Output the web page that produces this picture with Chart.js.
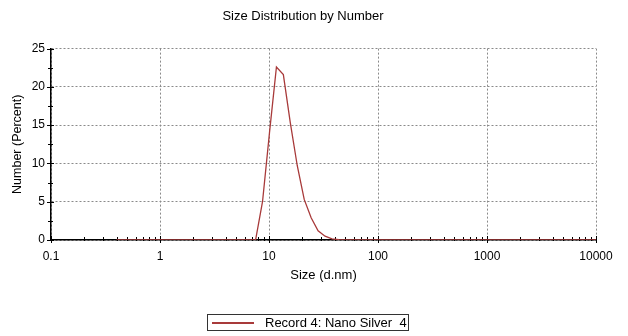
<!DOCTYPE html>
<html lang="en">
<head>
  <meta charset="UTF-8">
  <title>Size Distribution by Number</title>
  <style>
    body {
      margin: 0;
      background: #fff;
      font-family: "Liberation Sans", Arial, sans-serif;
    }
    .wrap {
      position: relative;
      width: 628px;
      height: 336px;
    }
    .legend {
      position: absolute;
      left: 207px;
      top: 314px;
      width: 200px;
      height: 15px;
      border: 1px solid #333;
      font-size: 13px;
      color: #000;
    }
    .legend .swatch {
      position: absolute;
      left: 4px;
      top: 7px;
      width: 42px;
      height: 0;
      border-top: 2px solid #a83a3a;
    }
    .legend .label {
      position: absolute;
      left: 57px;
      top: 0;
      line-height: 15px;
      white-space: pre;
    }
  </style>
</head>
<body>

  <div class="wrap">
    <canvas id="sizeChart" width="628" height="336"></canvas>
    <div class="legend">
      <span class="swatch"></span>
      <span class="label" id="legendLabel"></span>
    </div>
  </div>

  <script src="https://cdn.jsdelivr.net/npm/chart.js"></script>

  <script>
    // size classes (d.nm)
    const sizes = [0.4, 0.4632, 0.5365, 0.6213, 0.7195, 0.8332, 0.9649, 1.117, 1.294, 1.499,
      1.736, 2.01, 2.328, 2.696, 3.122, 3.615, 4.187, 4.849, 5.615, 6.503,
      7.531, 8.721, 10.1, 11.7, 13.54, 15.69, 18.17, 21.04, 24.36, 28.21,
      32.67, 37.84, 43.82, 50.75, 58.77, 68.06, 78.82, 91.28, 105.7, 122.4,
      141.8, 164.2, 190.1, 220.2, 255, 295.3, 342, 396.1, 458.7, 531.2,
      615.1, 712.4, 825, 955.4, 1106, 1281, 1484, 1718, 1990, 2305,
      2669, 3091, 3580, 4145, 4801, 5560, 6439, 7456, 8635, 10000];

    // number (percent) per class
    const numberPct = [0, 0, 0, 0, 0, 0, 0, 0, 0, 0,
      0, 0, 0, 0, 0, 0, 0, 0, 0, 0,
      0, 5.0, 14.0, 22.6, 21.6, 15.3, 9.7, 5.3, 2.9, 1.2,
      0.5, 0.15, 0.05, 0, 0, 0, 0, 0, 0, 0,
      0, 0, 0, 0, 0, 0, 0, 0, 0, 0,
      0, 0, 0, 0, 0, 0, 0, 0, 0, 0,
      0, 0, 0, 0, 0, 0, 0, 0, 0, 0];

    const seriesName = 'Record 4: Nano Silver  4';
    const xTicks = [0.1, 1, 10, 100, 1000, 10000];
    const xTickLabels = ['0.1', '1', '10', '100', '1000', '10000'];
    const yTicks = [0, 5, 10, 15, 20, 25];

    const lineColor = '#a83a3a';
    const gridColor = '#8a8a8a';

    document.getElementById('legendLabel').textContent = seriesName;

    Chart.defaults.font.family = '"Liberation Sans", Arial, sans-serif';
    Chart.defaults.font.size = 12;
    Chart.defaults.color = '#000';

    // small black tick marks on both axes
    const axisTicks = {
      id: 'axisTicks',
      beforeDatasetsDraw(chart) {
        const { ctx, chartArea, scales } = chart;
        const x = scales.x, y = scales.y;
        ctx.save();
        ctx.strokeStyle = '#000';
        ctx.lineWidth = 1;
        ctx.beginPath();
        for (let i = 0; i < xTicks.length; i++) {
          const px = Math.round(x.getPixelForValue(xTicks[i])) + 0.5;
          ctx.moveTo(px, chartArea.bottom - 4);
          ctx.lineTo(px, chartArea.bottom + 3);
          if (i === xTicks.length - 1) break;
          for (let m = 2; m <= 9; m++) {
            const mx = Math.round(x.getPixelForValue(xTicks[i] * m)) + 0.5;
            ctx.moveTo(mx, chartArea.bottom - 3);
            ctx.lineTo(mx, chartArea.bottom + 1);
          }
        }
        for (let v = 0; v <= 25; v += 2.5) {
          const py = Math.round(y.getPixelForValue(v)) + 0.5;
          const major = v % 5 === 0;
          ctx.moveTo(chartArea.left - (major ? 4 : 3), py);
          ctx.lineTo(chartArea.left + (major ? 3 : 2), py);
        }
        ctx.stroke();
        ctx.restore();
      }
    };

    const ctx = document.getElementById('sizeChart').getContext('2d');
    const chart = new Chart(ctx, {
      type: 'scatter',
      data: {
        datasets: [{
          label: seriesName,
          data: sizes.map((s, i) => ({ x: s, y: numberPct[i] })),
          showLine: true,
          borderColor: lineColor,
          borderWidth: 1.3,
          pointRadius: 0,
          fill: false,
          tension: 0
        }]
      },
      options: {
        responsive: false,
        animation: false,
        devicePixelRatio: 1,
        layout: {
          padding: { top: 0, left: 10, right: 32, bottom: 53 }
        },
        plugins: {
          legend: { display: false },
          tooltip: { enabled: false },
          title: {
            display: true,
            text: 'Size Distribution by Number',
            font: { size: 13, weight: 'normal' },
            color: '#000',
            padding: { top: 9, bottom: 24 }
          }
        },
        scales: {
          x: {
            type: 'logarithmic',
            min: 0.1,
            max: 10000,
            afterBuildTicks: (scale) => {
              scale.ticks = xTicks.map(v => ({ value: v }));
            },
            afterFit: (scale) => { scale.height = 43; },
            ticks: {
              autoSkip: false,
              maxRotation: 0,
              padding: 9,
              callback: (value, index) => xTickLabels[index]
            },
            grid: {
              color: gridColor,
              lineWidth: 1,
              drawTicks: false
            },
            // in v4 border.dash sets the dash of the grid lines
            border: { display: true, color: '#000', width: 1.5, dash: [2, 2] },
            title: {
              display: true,
              text: 'Size (d.nm)',
              font: { size: 13 },
              padding: 0
            }
          },
          y: {
            min: 0,
            max: 25,
            afterBuildTicks: (scale) => {
              scale.ticks = yTicks.map(v => ({ value: v }));
            },
            afterFit: (scale) => { scale.width = 41; },
            ticks: {
              padding: 6
            },
            grid: {
              color: gridColor,
              lineWidth: 1,
              drawTicks: false
            },
            border: { display: true, color: '#000', width: 1.5, dash: [2, 2] },
            title: {
              display: true,
              text: 'Number (Percent)',
              font: { size: 12.5 },
              padding: 0
            }
          }
        }
      },
      plugins: [axisTicks]
    });
  </script>

</body>
</html>
